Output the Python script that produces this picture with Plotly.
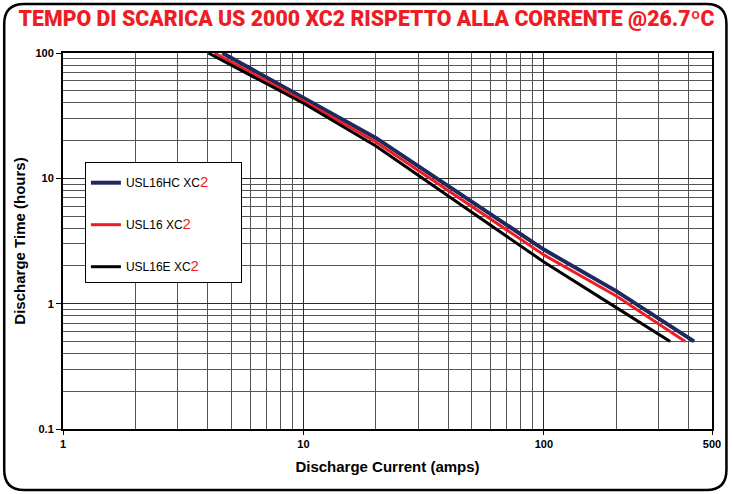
import plotly.graph_objects as go

# ---- data ----
current_hc = [4.6, 10, 20, 100, 200, 421]
time_hc = [100, 44, 21, 2.7, 1.26, 0.5]
current_16 = [4.26, 10, 20, 100, 200, 387]
time_16 = [100, 41.4, 19.5, 2.45, 1.15, 0.5]
current_e = [4.02, 10, 20, 100, 200, 335]
time_e = [100, 39.7, 18.1, 2.15, 0.93, 0.5]

x_major = [1, 10, 100, 500]
x_major_text = ["1", "10", "100", "500"]
x_minor = [2, 3, 4, 5, 6, 7, 8, 9, 20, 30, 40, 50, 60, 70, 80, 90, 200, 300, 400]
y_major = [0.1, 1, 10, 100]
y_major_text = ["0.1", "1", "10", "100"]
y_minor = [0.2, 0.3, 0.4, 0.5, 0.6, 0.7, 0.8, 0.9, 2, 3, 4, 5, 6, 7, 8, 9,
           20, 30, 40, 50, 60, 70, 80, 90]

pad = "&nbsp;" * 8
names = ["USL16HC XC<span style='color:#ee1c25;font-size:15px'>2</span>" + pad,
         "USL16 XC<span style='color:#ee1c25;font-size:15px'>2</span>" + pad,
         "USL16E XC<span style='color:#ee1c25;font-size:15px'>2</span>" + pad]
colors = ["#1e2a5e", "#ee1c25", "#000000"]
widths = [4, 3, 3]

W, H = 733, 494
ML, MR, MT, MB = 63, 18.5, 53, 65
PW, PH = W - ML - MR, H - MT - MB


def px(x):
    return (x - ML) / PW


def py(y):
    return 1 - (y - MT) / PH


fig = go.Figure()
series = [(current_hc, time_hc), (current_16, time_16), (current_e, time_e)]
for i, (cx, ty) in enumerate(series):
    fig.add_trace(go.Scatter(x=cx, y=ty, mode="lines", name=names[i],
                             line=dict(color=colors[i], width=widths[i]),
                             legendgroup=str(i)))

# outer rounded frame
x0, x1, y0, y1, r = 4, 729, 4, 490, 20
path = (f"M {px(x0 + r)},{py(y0)} L {px(x1 - r)},{py(y0)} "
        f"Q {px(x1)},{py(y0)} {px(x1)},{py(y0 + r)} "
        f"L {px(x1)},{py(y1 - r)} Q {px(x1)},{py(y1)} {px(x1 - r)},{py(y1)} "
        f"L {px(x0 + r)},{py(y1)} Q {px(x0)},{py(y1)} {px(x0)},{py(y1 - r)} "
        f"L {px(x0)},{py(y0 + r)} Q {px(x0)},{py(y0)} {px(x0 + r)},{py(y0)} Z")
fig.add_shape(type="path", xref="paper", yref="paper", path=path,
              line=dict(color="black", width=2.5), layer="above")

axis_font = dict(family="Liberation Sans", size=11, color="black", weight="bold")
grid_c = "#2a2a2a"

fig.update_xaxes(type="log", range=[0, 2.69897], tickvals=x_major, ticktext=x_major_text,
                 ticks="outside", ticklen=4, tickcolor="black",
                 showgrid=True, gridcolor=grid_c, gridwidth=1,
                 minor=dict(tickvals=x_minor, showgrid=True, gridcolor="#555555", gridwidth=1, ticks=""),
                 showline=True, linecolor="black", linewidth=2, mirror=True,
                 tickfont=axis_font, zeroline=False,
                 title=dict(text="Discharge Current (amps)", standoff=12,
                            font=dict(family="Liberation Sans", size=15, color="black", weight="bold")))
fig.update_yaxes(type="log", range=[-1, 2], tickvals=y_major, ticktext=y_major_text,
                 ticks="outside", ticklen=5, tickcolor="black",
                 showgrid=True, gridcolor=grid_c, gridwidth=1,
                 minor=dict(tickvals=y_minor, showgrid=True, gridcolor="#555555", gridwidth=1, ticks=""),
                 showline=True, linecolor="black", linewidth=2, mirror=True,
                 tickfont=axis_font, zeroline=False,
                 title=dict(text="Discharge Time (hours)", standoff=6,
                            font=dict(family="Liberation Sans", size=15, color="black", weight="bold")))

fig.update_layout(
    width=W, height=H,
    margin=dict(l=ML, r=MR, t=MT, b=MB),
    paper_bgcolor="white", plot_bgcolor="white",
    title=dict(text="TEMPO DI SCARICA US 2000 XC2 RISPETTO ALLA CORRENTE @26.7ºC",
               x=0.5, xref="container", xanchor="center", y=1 - 19 / H, yanchor="middle",
               font=dict(family="Roboto", size=21.3, color="#ee1c25", weight=900)),
    legend=dict(x=px(85), y=py(162), xanchor="left", yanchor="top",
                bgcolor="white", bordercolor="black", borderwidth=1,
                font=dict(family="Liberation Sans", size=12, color="black"),
                title=dict(text=" ", font=dict(size=4)),
                tracegroupgap=23, itemwidth=30,
                traceorder="grouped"),
    showlegend=True,
)

fig.write_html("out.html", config={"displayModeBar": False},
               post_script="document.body.style.margin='0';")
